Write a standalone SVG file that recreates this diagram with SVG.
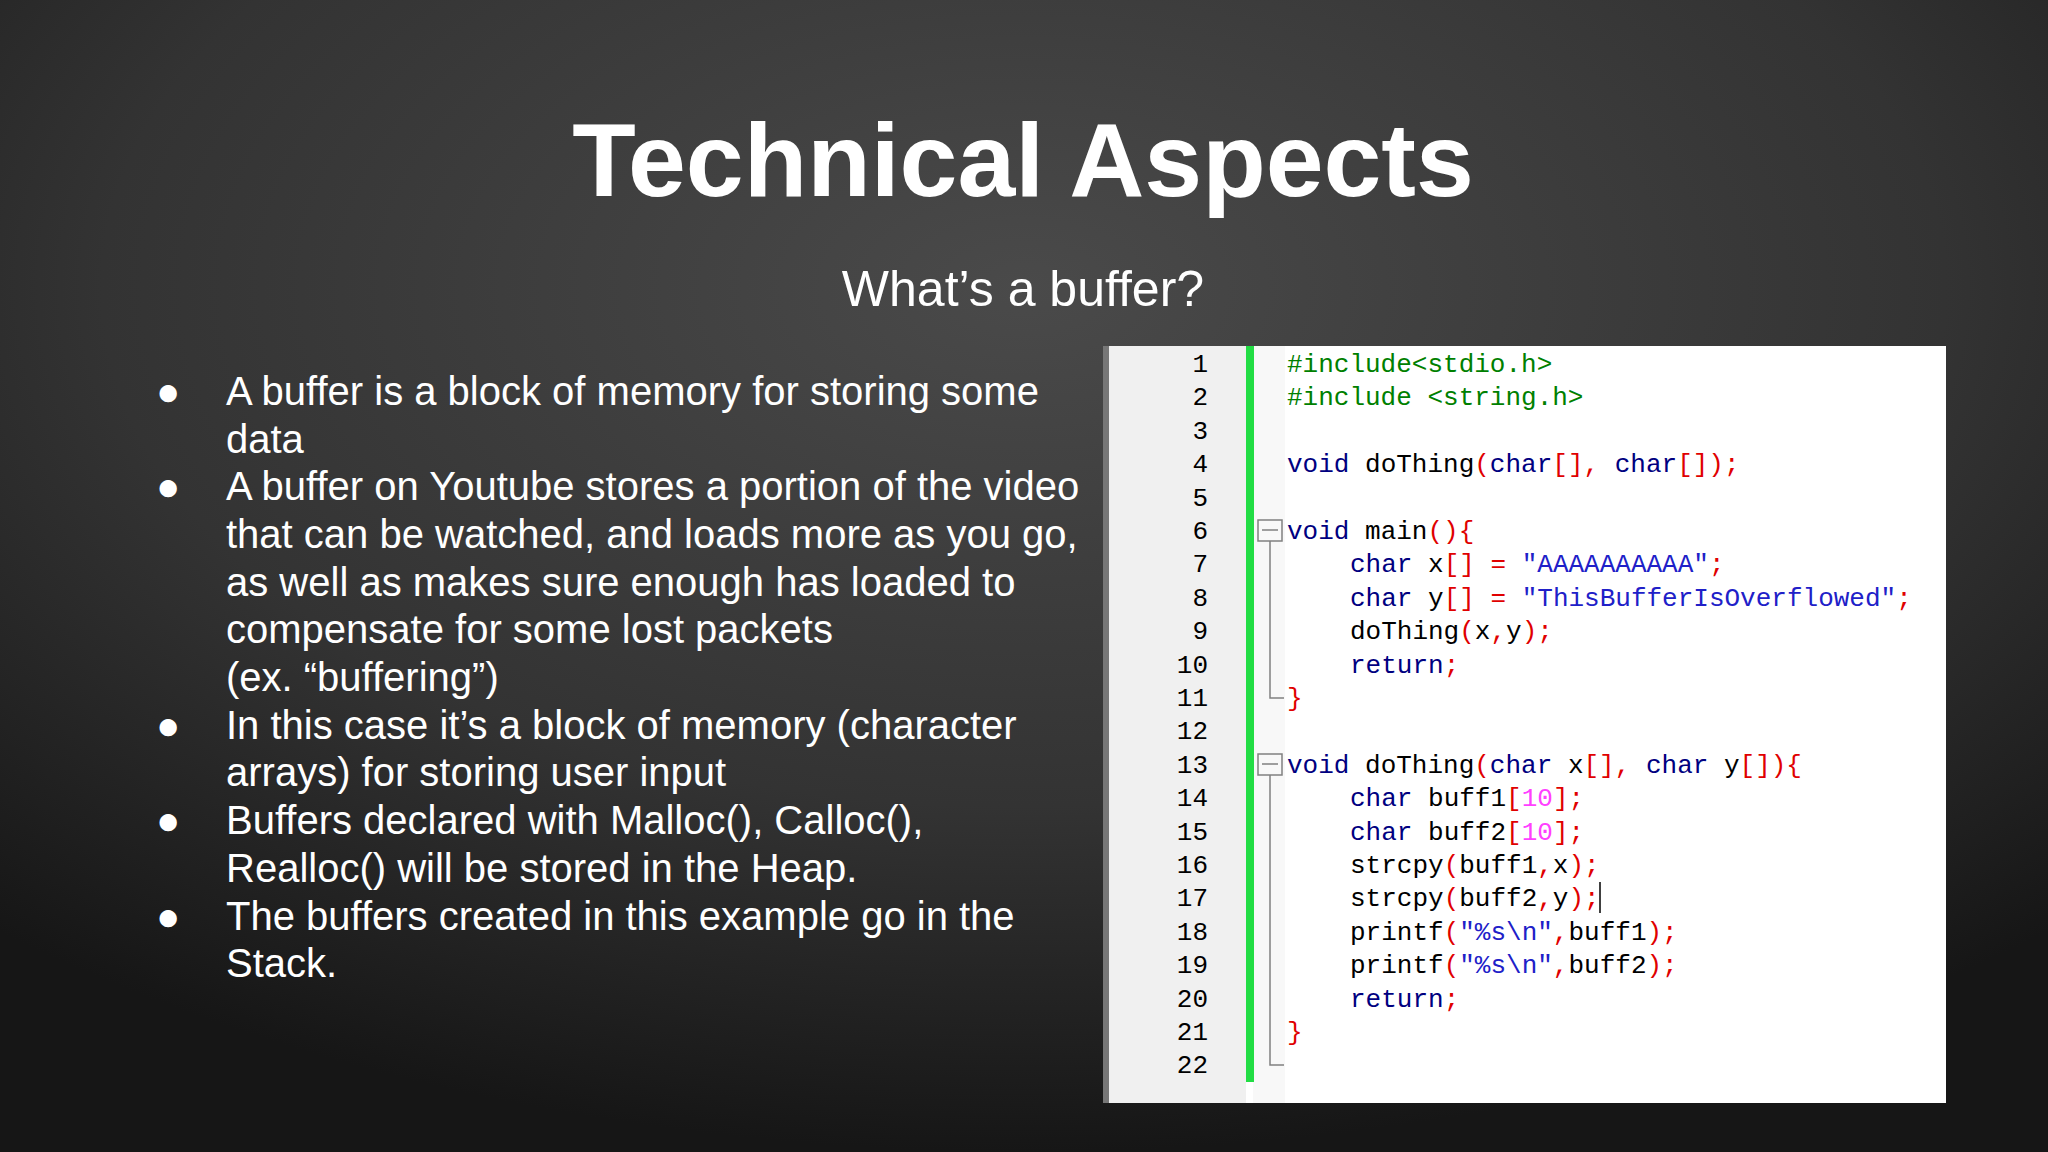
<svg xmlns="http://www.w3.org/2000/svg" width="2048" height="1152" viewBox="0 0 2048 1152">
<defs>
<radialGradient id="bg" cx="50%" cy="25%" r="75%">
<stop offset="0" stop-color="#4a4a4a"/>
<stop offset="0.6" stop-color="#333"/>
<stop offset="1" stop-color="#161616"/>
</radialGradient>
<style>
.t{font-family:"Liberation Sans",Arial,sans-serif;fill:#fff}
.b{font-size:40px}
.ln{font-family:"Liberation Mono","Courier New",monospace;font-size:26px;fill:#000;text-anchor:end}
.c{font-family:"Liberation Mono","Courier New",monospace;font-size:26px;fill:#000}
.k{fill:#000080}.p{fill:#e00000}.s{fill:#2020c8}.n{fill:#ff40ff}.g{fill:#008000}
.fold{fill:none;stroke:#808080;stroke-width:1.5}
</style>
</defs>
<rect width="2048" height="1152" fill="url(#bg)"/>
<g id="title"><text class="t" x="1023" y="196" font-size="104" font-weight="bold" text-anchor="middle">Technical Aspects</text></g>
<g id="subtitle"><text class="t" x="1023" y="306" font-size="50" text-anchor="middle">What’s a buffer?</text></g>
<g id="bullets">
<g class="t b">
<text x="156" y="405">●</text><text x="156" y="500">●</text><text x="156" y="739">●</text><text x="156" y="834">●</text><text x="156" y="930">●</text>
</g>
<g class="t b">
<text x="226" y="405">A buffer is a block of memory for storing some</text>
<text x="226" y="453">data</text>
<text x="226" y="500">A buffer on Youtube stores a portion of the video</text>
<text x="226" y="548">that can be watched, and loads more as you go,</text>
<text x="226" y="596">as well as makes sure enough has loaded to</text>
<text x="226" y="643">compensate for some lost packets</text>
<text x="226" y="691">(ex. “buffering”)</text>
<text x="226" y="739">In this case it’s a block of memory (character</text>
<text x="226" y="786">arrays) for storing user input</text>
<text x="226" y="834">Buffers declared with Malloc(), Calloc(),</text>
<text x="226" y="882">Realloc() will be stored in the Heap.</text>
<text x="226" y="930">The buffers created in this example go in the</text>
<text x="226" y="977">Stack.</text>
</g>
</g>
<g id="code-panel">
<rect x="1103" y="346" width="843" height="757" fill="#fff"/>
<rect x="1103" y="346" width="6" height="757" fill="#777"/>
<rect x="1109" y="346" width="137" height="757" fill="#f0f0f0"/>
<rect x="1253" y="346" width="32" height="757" fill="#f8f8f8"/>
<rect x="1246" y="346" width="8" height="736" fill="#22dd44"/>
<g id="line-numbers">
<text class="ln" x="1208" y="372">1</text><text class="ln" x="1208" y="405">2</text><text class="ln" x="1208" y="439">3</text><text class="ln" x="1208" y="472">4</text><text class="ln" x="1208" y="506">5</text><text class="ln" x="1208" y="539">6</text><text class="ln" x="1208" y="572">7</text><text class="ln" x="1208" y="606">8</text><text class="ln" x="1208" y="639">9</text><text class="ln" x="1208" y="673">10</text><text class="ln" x="1208" y="706">11</text><text class="ln" x="1208" y="739">12</text><text class="ln" x="1208" y="773">13</text><text class="ln" x="1208" y="806">14</text><text class="ln" x="1208" y="840">15</text><text class="ln" x="1208" y="873">16</text><text class="ln" x="1208" y="906">17</text><text class="ln" x="1208" y="940">18</text><text class="ln" x="1208" y="973">19</text><text class="ln" x="1208" y="1007">20</text><text class="ln" x="1208" y="1040">21</text><text class="ln" x="1208" y="1073">22</text>
</g>
<g id="folds">
<rect class="fold" x="1258" y="520" width="24" height="21" fill="#fff"/>
<line class="fold" x1="1262" y1="530" x2="1278" y2="530"/>
<polyline class="fold" points="1270,541 1270,698 1284,698"/>
<rect class="fold" x="1258" y="754" width="24" height="21" fill="#fff"/>
<line class="fold" x1="1262" y1="764" x2="1278" y2="764"/>
<polyline class="fold" points="1270,775 1270,1065 1284,1065"/>
</g>
<g id="code">
<text class="c g" x="1287" y="372">#include&lt;stdio.h&gt;</text>
<text class="c g" x="1287" y="405">#include &lt;string.h&gt;</text>
<text class="c" x="1287" y="472" xml:space="preserve"><tspan class="k">void</tspan> doThing<tspan class="p">(</tspan><tspan class="k">char</tspan><tspan class="p">[],</tspan> <tspan class="k">char</tspan><tspan class="p">[]);</tspan></text>
<text class="c" x="1287" y="539" xml:space="preserve"><tspan class="k">void</tspan> main<tspan class="p">(){</tspan></text>
<text class="c" x="1350" y="572" xml:space="preserve"><tspan class="k">char</tspan> x<tspan class="p">[]</tspan> <tspan class="p">=</tspan> <tspan class="s">"AAAAAAAAAA"</tspan><tspan class="p">;</tspan></text>
<text class="c" x="1350" y="606" xml:space="preserve"><tspan class="k">char</tspan> y<tspan class="p">[]</tspan> <tspan class="p">=</tspan> <tspan class="s">"ThisBufferIsOverflowed"</tspan><tspan class="p">;</tspan></text>
<text class="c" x="1350" y="639" xml:space="preserve">doThing<tspan class="p">(</tspan>x<tspan class="p">,</tspan>y<tspan class="p">);</tspan></text>
<text class="c" x="1350" y="673" xml:space="preserve"><tspan class="k">return</tspan><tspan class="p">;</tspan></text>
<text class="c p" x="1287" y="706">}</text>
<text class="c" x="1287" y="773" xml:space="preserve"><tspan class="k">void</tspan> doThing<tspan class="p">(</tspan><tspan class="k">char</tspan> x<tspan class="p">[],</tspan> <tspan class="k">char</tspan> y<tspan class="p">[]){</tspan></text>
<text class="c" x="1350" y="806" xml:space="preserve"><tspan class="k">char</tspan> buff1<tspan class="p">[</tspan><tspan class="n">10</tspan><tspan class="p">];</tspan></text>
<text class="c" x="1350" y="840" xml:space="preserve"><tspan class="k">char</tspan> buff2<tspan class="p">[</tspan><tspan class="n">10</tspan><tspan class="p">];</tspan></text>
<text class="c" x="1350" y="873" xml:space="preserve">strcpy<tspan class="p">(</tspan>buff1<tspan class="p">,</tspan>x<tspan class="p">);</tspan></text>
<text class="c" x="1350" y="906" xml:space="preserve">strcpy<tspan class="p">(</tspan>buff2<tspan class="p">,</tspan>y<tspan class="p">);</tspan></text>
<text class="c" x="1350" y="940" xml:space="preserve">printf<tspan class="p">(</tspan><tspan class="s">"%s\n"</tspan><tspan class="p">,</tspan>buff1<tspan class="p">);</tspan></text>
<text class="c" x="1350" y="973" xml:space="preserve">printf<tspan class="p">(</tspan><tspan class="s">"%s\n"</tspan><tspan class="p">,</tspan>buff2<tspan class="p">);</tspan></text>
<text class="c" x="1350" y="1007" xml:space="preserve"><tspan class="k">return</tspan><tspan class="p">;</tspan></text>
<text class="c p" x="1287" y="1040">}</text>
</g>
<line x1="1600" y1="882" x2="1600" y2="913" stroke="#000" stroke-width="1.5"/>
</g>
</svg>
